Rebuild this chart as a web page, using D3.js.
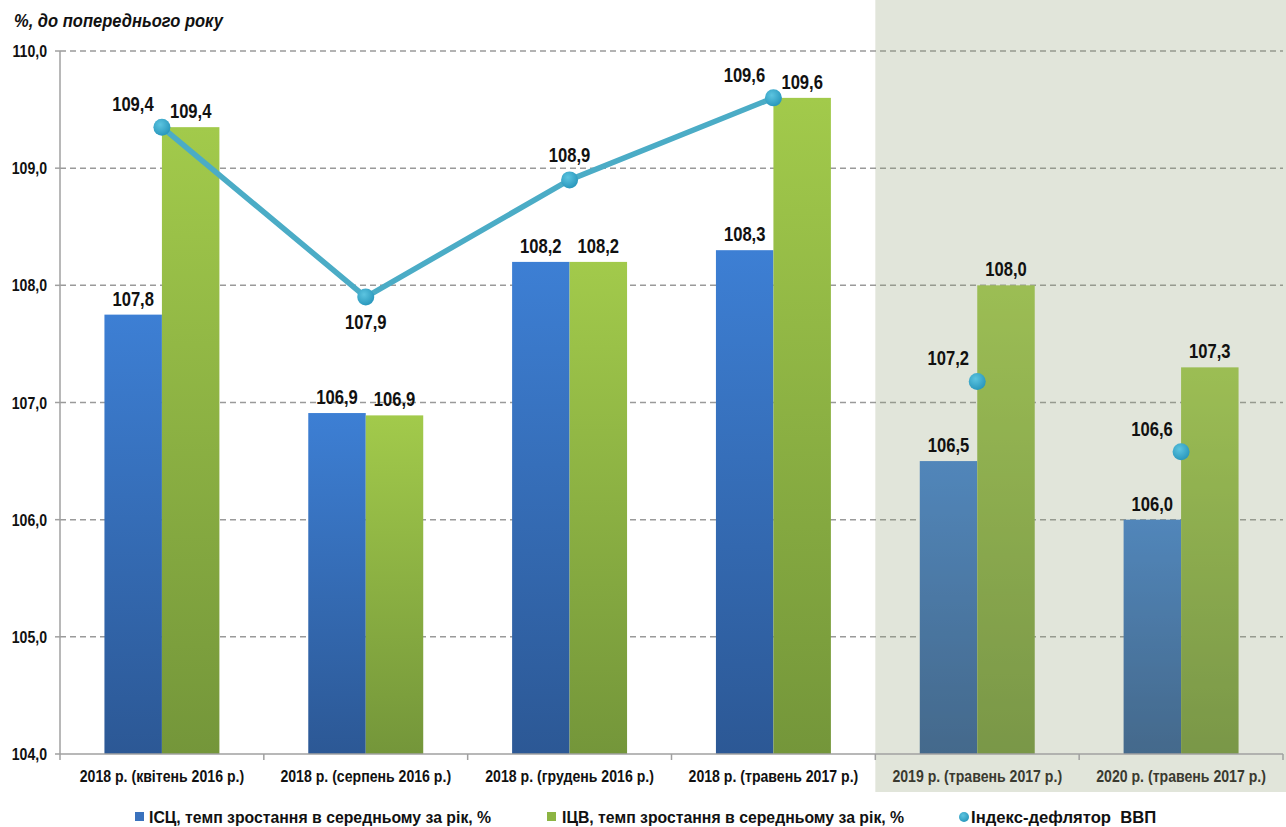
<!DOCTYPE html>
<html><head><meta charset="utf-8">
<script src="https://cdn.jsdelivr.net/npm/d3@7"></script>
<style>
body{margin:0;background:#fff;}
svg text{font-family:"Liberation Sans",Arial,sans-serif;font-weight:bold;}
</style></head>
<body><svg id="c" width="1286" height="827"></svg>
<script>
const categories = ["2018 р. (квітень 2016 р.)","2018 р. (серпень 2016 р.)","2018 р. (грудень 2016 р.)","2018 р. (травень 2017 р.)","2019 р. (травень 2017 р.)","2020 р. (травень 2017 р.)"];
const iscValues = [107.75, 106.91, 108.2, 108.3, 106.5, 106.0];
const iscLabels = ["107,8","106,9","108,2","108,3","106,5","106,0"];
const icvValues = [109.35, 106.89, 108.2, 109.6, 108.0, 107.3];
const icvLabels = ["109,4","106,9","108,2","109,6","108,0","107,3"];
const deflValues = [109.35, 107.9, 108.9, 109.6, 107.18, 106.58];
const deflLabels = ["109,4","107,9","108,9","109,6","107,2","106,6"];
const deflLabelPos = ["tl","b","t","tl","tl","tl"];
const lineCount = 4; // first 4 points connected
const yTicks = [104,105,106,107,108,109,110];
const seriesNames = ["ІСЦ, темп зростання в середньому за рік, %","ІЦВ, темп зростання в середньому за рік, %","Індекс-дефлятор  ВВП"];
const yTitle = "%, до попереднього року";
const shadedFrom = 4;

const svg = d3.select("#c");
const L = 60, R = 1283, T = 51, B = 754;
const x = d3.scaleBand().domain(categories).range([L, R]).paddingInner(0.436).paddingOuter(0.218);
const step = x.step();
const y = d3.scaleLinear().domain([104, 110]).range([B, T]);
const fmt = v => d3.format(".1f")(v).replace(".", ",");

function txt(g, px, py, s, str, anchor){
  return g.append("text").attr("transform", `translate(${px},${py}) scale(${s},1)`)
    .attr("text-anchor", anchor || "start").attr("xml:space","preserve").text(str);
}

const defs = svg.append("defs");
function vgrad(id, c1, c2){
  const g = defs.append("linearGradient").attr("id", id).attr("x1",0).attr("y1",0).attr("x2",0).attr("y2",1);
  g.append("stop").attr("offset","0%").attr("stop-color",c1);
  g.append("stop").attr("offset","100%").attr("stop-color",c2);
}
vgrad("gBlue","#3d7fd4","#2c5895");
vgrad("gGreen","#a2ca4b","#74963a");
const rg = defs.append("radialGradient").attr("id","gDot").attr("cx","40%").attr("cy","35%").attr("r","65%");
rg.append("stop").attr("offset","0%").attr("stop-color","#5cc4e0");
rg.append("stop").attr("offset","100%").attr("stop-color","#2a98bd");

const shadeX = L + shadedFrom * step;

// gridlines
svg.append("g").selectAll("line").data(yTicks.filter(d => d > 104)).join("line")
  .attr("x1", L).attr("x2", R).attr("y1", d => y(d)).attr("y2", d => y(d))
  .attr("stroke", "#9a9a9a").attr("stroke-width", 1.5).attr("stroke-dasharray", "6,4");

// bars
const bw = x.bandwidth() / 2;
const gb = svg.append("g");
categories.forEach((c, i) => {
  gb.append("rect").attr("x", x(c)).attr("y", y(iscValues[i])).attr("width", bw).attr("height", B - y(iscValues[i]))
    .attr("fill", "url(#gBlue)");
  gb.append("rect").attr("x", x(c) + bw).attr("y", y(icvValues[i])).attr("width", bw).attr("height", B - y(icvValues[i]))
    .attr("fill", "url(#gGreen)");
});
// shaded forecast region (translucent overlay mutes bars)
svg.append("rect").attr("x", shadeX).attr("y", 0).attr("width", 1286 - shadeX).attr("height", 792)
  .attr("fill", "#8a9a70").attr("opacity", 0.26);

// axes
svg.append("line").attr("x1", L).attr("x2", L).attr("y1", T).attr("y2", B).attr("stroke", "#a0a0a0").attr("stroke-width", 1.5);
svg.append("line").attr("x1", L).attr("x2", R).attr("y1", B).attr("y2", B).attr("stroke", "#a0a0a0").attr("stroke-width", 1.5);
svg.append("g").selectAll("line").data(yTicks).join("line")
  .attr("x1", L - 5).attr("x2", L).attr("y1", d => y(d)).attr("y2", d => y(d)).attr("stroke", "#a0a0a0").attr("stroke-width", 1.5);
const yl = svg.append("g").attr("font-size", 17).attr("fill", "#111");
yTicks.forEach(d => txt(yl, L - 13, y(d) + 6, 0.83, fmt(d), "end"));
svg.append("g").selectAll("line").data(d3.range(categories.length + 1)).join("line")
  .attr("x1", i => L + i * step).attr("x2", i => L + i * step).attr("y1", B).attr("y2", B + 6)
  .attr("stroke", "#a0a0a0").attr("stroke-width", 1.5);
const xl = svg.append("g").attr("font-size", 17);
categories.forEach((d, i) => txt(xl, x(d) + x.bandwidth() / 2, 782, 0.83, d, "middle").attr("fill", i >= shadedFrom ? "#3a3a30" : "#111"));

// title
txt(svg.append("g").attr("font-size", 19).attr("font-style", "italic").attr("fill", "#111"), 14, 27, 0.87, yTitle);

// line
const cx = i => x(categories[i]) + x.bandwidth() / 2;
svg.append("path").datum(deflValues.slice(0, lineCount))
  .attr("d", d3.line().x((d, i) => cx(i)).y(d => y(d)))
  .attr("fill", "none").attr("stroke", "#4bacc6").attr("stroke-width", 5.5).attr("stroke-linejoin", "round");
svg.append("g").selectAll("circle").data(deflValues).join("circle")
  .attr("cx", (d, i) => cx(i)).attr("cy", d => y(d)).attr("r", 8.5).attr("fill", "url(#gDot)");

// labels
const lab = svg.append("g").attr("font-size", 20).attr("fill", "#111");
categories.forEach((c, i) => {
  txt(lab, x(c) + bw / 2, y(iscValues[i]) - 9, 0.83, iscLabels[i], "middle");
  txt(lab, x(c) + bw * 1.5, y(icvValues[i]) - 9, 0.83, icvLabels[i], "middle");
  const p = deflLabelPos[i];
  const dx = p === "tl" ? -29 : 0;
  const dy = p === "b" ? 32 : (p === "t" ? -18 : -16);
  txt(lab, cx(i) + dx, y(deflValues[i]) + dy, 0.83, deflLabels[i], "middle");
});

// legend
const lg = svg.append("g").attr("font-size", 17).attr("fill", "#111");
lg.append("rect").attr("x", 135).attr("y", 812).attr("width", 9).attr("height", 9).attr("fill", "#3a72bd");
txt(lg, 149, 823, 0.93, seriesNames[0]);
lg.append("rect").attr("x", 547).attr("y", 812).attr("width", 9).attr("height", 9).attr("fill", "#8cb443");
txt(lg, 562, 823, 0.93, seriesNames[1]);
lg.append("circle").attr("cx", 964).attr("cy", 817).attr("r", 5).attr("fill", "url(#gDot)");
txt(lg, 971, 823, 0.98, seriesNames[2]);
</script></body></html>
